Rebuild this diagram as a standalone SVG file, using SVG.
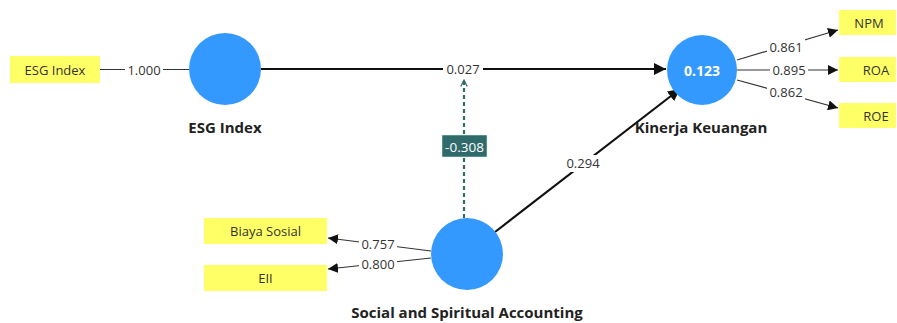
<svg xmlns="http://www.w3.org/2000/svg" width="897" height="323" viewBox="0 0 897 323">
<style>
text{font-family:"Open Sans","Noto Sans","DejaVu Sans",sans-serif;}
.lv{fill:#3399ff;}
.ind{fill:#ffff66;}
.it{font-size:13px;fill:#333;text-anchor:middle;dominant-baseline:central;}
.nt{font-size:15px;font-weight:bold;fill:#222;text-anchor:middle;}
.w{font-size:13px;fill:#333;text-anchor:middle;dominant-baseline:central;}
.thin{stroke:#333;stroke-width:1.2;fill:none;}
.thick{stroke:#111;stroke-width:2.2;fill:none;}
.lbg{fill:#fff;}
</style>
<defs>
<marker id="ah" viewBox="0 0 10 10" refX="10" refY="5" markerWidth="10" markerHeight="10" markerUnits="userSpaceOnUse" orient="auto"><path d="M0,0 L10,5 L0,10 z" fill="#111"/></marker>
<marker id="ahb" viewBox="0 0 10 10" refX="10" refY="5" markerWidth="12" markerHeight="12" markerUnits="userSpaceOnUse" orient="auto"><path d="M0,0 L10,5 L0,10 z" fill="#111"/></marker>
<marker id="ao" viewBox="0 0 10 10" refX="9" refY="5" markerWidth="8" markerHeight="8" markerUnits="userSpaceOnUse" orient="auto"><path d="M1,1 L9,5 L1,9" fill="none" stroke="#2f6b6b" stroke-width="1.5"/></marker>
</defs>
<g id="connectors">
<line class="thin" x1="100" y1="69.5" x2="189" y2="69.5" stroke="#666"/>
<rect class="lbg" x="125" y="61" width="38" height="17"/>
<text class="w" x="144" y="69.5">1.000</text>
<line class="thick" x1="261" y1="69" x2="666" y2="69" marker-end="url(#ahb)"/>
<rect class="lbg" x="443" y="61" width="40" height="16"/>
<text class="w" x="463" y="69">0.027</text>
<line class="thick" x1="495" y1="232" x2="680" y2="89" marker-end="url(#ahb)"/>
<rect class="lbg" x="563" y="155" width="40" height="17"/>
<text class="w" x="583" y="163">0.294</text>
<line x1="464" y1="218" x2="464" y2="80" stroke="#2f6b6b" stroke-width="2.2" stroke-dasharray="4,3" marker-end="url(#ao)"/>
<rect x="442" y="135" width="45" height="22" fill="#2f6b6b" stroke="#dfe" stroke-width="0.5"/>
<text class="w" x="464.5" y="146.5" style="fill:#fff;font-size:13.5px">-0.308</text>
<line class="thin" x1="737" y1="60" x2="838" y2="30" marker-end="url(#ah)"/>
<rect class="lbg" x="767" y="39" width="38" height="16"/>
<text class="w" x="786" y="47">0.861</text>
<line class="thin" x1="737" y1="70" x2="838" y2="70" marker-end="url(#ah)"/>
<rect class="lbg" x="770" y="62" width="38" height="16"/>
<text class="w" x="789" y="70">0.895</text>
<line class="thin" x1="737" y1="80" x2="838" y2="108" marker-end="url(#ah)"/>
<rect class="lbg" x="767" y="84" width="38" height="16"/>
<text class="w" x="786" y="92">0.862</text>
<line class="thin" x1="431" y1="251" x2="328" y2="238" marker-end="url(#ah)"/>
<rect class="lbg" x="359" y="236" width="38" height="16"/>
<text class="w" x="378" y="244">0.757</text>
<line class="thin" x1="431" y1="258" x2="328" y2="269" marker-end="url(#ah)"/>
<rect class="lbg" x="359" y="256" width="38" height="16"/>
<text class="w" x="378" y="264">0.800</text>
</g>
<g id="ind-esg"><rect class="ind" x="10" y="56" width="90" height="27"/><text class="it" x="55" y="69.5">ESG Index</text></g>
<g id="ind-npm"><rect class="ind" x="839" y="10" width="57" height="25"/><text class="it" x="869" y="22.5">NPM</text></g>
<g id="ind-roa"><rect class="ind" x="839" y="57" width="57" height="25"/><text class="it" x="876" y="69.5">ROA</text></g>
<g id="ind-roe"><rect class="ind" x="839" y="103" width="57" height="25"/><text class="it" x="876" y="115.5">ROE</text></g>
<g id="ind-biaya"><rect class="ind" x="204" y="218" width="123" height="26"/><text class="it" x="265.5" y="231">Biaya Sosial</text></g>
<g id="ind-eii"><rect class="ind" x="204" y="265" width="123" height="26"/><text class="it" x="265.5" y="278">EII</text></g>
<g id="lv-esg"><circle class="lv" cx="225" cy="69" r="36"/><text class="nt" x="225" y="133">ESG Index</text></g>
<g id="lv-kk"><circle class="lv" cx="702" cy="70" r="35"/><text x="702" y="70" style="font-size:14px;font-weight:bold;fill:#fff;text-anchor:middle;dominant-baseline:central">0.123</text><text class="nt" x="701" y="133">Kinerja Keuangan</text></g>
<g id="lv-ssa"><circle class="lv" cx="467" cy="254" r="36"/><text class="nt" x="467" y="318">Social and Spiritual Accounting</text></g>
</svg>
